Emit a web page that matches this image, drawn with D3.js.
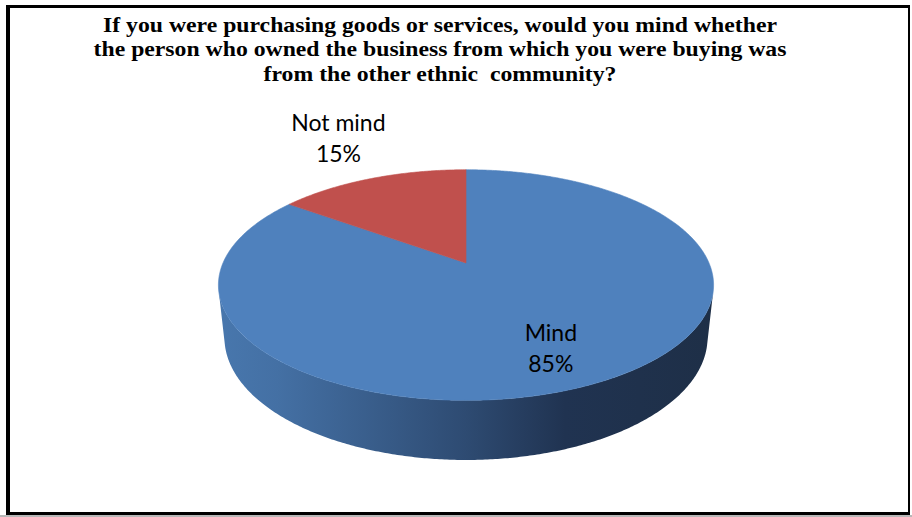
<!DOCTYPE html>
<html>
<head>
<meta charset="utf-8">
<script src="https://cdn.jsdelivr.net/npm/d3@7"></script>
<style>
  body { margin: 0; background: #fff; }
  svg { display: block; }
</style>
</head>
<body>
<svg id="chart" width="912" height="517"></svg>
<script>
// Survey answers and their shares (%)
const categories = ["Mind", "Not mind"];
const shares = [85, 15];
const shareLabels = ["85%", "15%"];
const sliceColors = ["#4f81bd", "#c0504d"];
const titleLines = [
  "If you were purchasing goods or services, would you mind whether",
  "the person who owned the business from which you were buying was",
  "from the other ethnic  community?"
];

const W = 912, H = 517;
const svg = d3.select("#chart");

// ---- frame ----
svg.append("rect").attr("x", 0).attr("y", 515).attr("width", W).attr("height", 2).attr("fill", "#b8b8b8");
svg.append("rect").attr("x", 6).attr("y", 5).attr("width", 4).attr("height", 510).attr("fill", "#000");
svg.append("rect").attr("x", 6).attr("y", 5).attr("width", 904).attr("height", 3).attr("fill", "#000");
svg.append("rect").attr("x", 908).attr("y", 5).attr("width", 2).attr("height", 510).attr("fill", "#000");
svg.append("rect").attr("x", 6).attr("y", 512).attr("width", 904).attr("height", 3).attr("fill", "#000");

// ---- title (slightly widened serif, centred) ----
const title = svg.append("text")
  .attr("transform", "translate(440,0) scale(1.13,1)")
  .attr("text-anchor", "middle")
  .attr("font-family", "'Liberation Serif', 'Times New Roman', serif")
  .attr("font-weight", "bold")
  .attr("font-size", 21)
  .attr("fill", "#000")
  .style("white-space", "pre");
title.selectAll("tspan").data(titleLines).join("tspan")
  .attr("x", 0)
  .attr("y", (d, i) => 32 + i * 24.5)
  .text(d => d);

// ---- 3D pie projection (perspective camera tilted over a flat disc) ----
const cx = 466, cy = 263;           // screen position of the disc centre
const tilt = 27.2 * Math.PI / 180;  // camera elevation
const cosT = Math.cos(tilt), sinT = Math.sin(tilt);
const camDist = 4.65;               // camera distance in disc radii
const focal = 1130;                 // focal length in px
const thick = 0.245;                // disc thickness in disc radii

function project(theta, r, y) {
  const x = r * Math.sin(theta);
  const z = -r * Math.cos(theta);
  const yv = y * cosT - z * sinT;
  const depth = camDist - (y * sinT + z * cosT);
  return [cx + focal * x / depth, cy - focal * yv / depth];
}

const pie = d3.pie().sort(null).value(d => d.value);
const arcs = pie(categories.map((c, i) => ({ name: c, value: shares[i], label: shareLabels[i], color: sliceColors[i] })));

const line = d3.line();
const STEP = Math.PI / 360;
function rimPoints(a0, a1, y) {
  const n = Math.max(2, Math.ceil(Math.abs(a1 - a0) / STEP));
  return d3.range(n + 1).map(k => project(a0 + (a1 - a0) * k / n, 1, y));
}

// side wall faces the camera where cos(theta) < -1/(camDist*cosT)
const sideHalf = Math.acos(-1 / (camDist * cosT));
const sideA0 = sideHalf, sideA1 = 2 * Math.PI - sideHalf;

// side gradient
const xs = d3.range(0, 361).map(a => project(a * Math.PI / 180, 1, 0)[0]);
const xMin = d3.min(xs), xMax = d3.max(xs);
const defs = svg.append("defs");
const grad = defs.append("linearGradient").attr("id", "sideShade")
  .attr("gradientUnits", "userSpaceOnUse")
  .attr("x1", xMin).attr("y1", 0).attr("x2", xMax).attr("y2", 0);
[[0, "#4877ad"], [0.12, "#4470a4"], [0.5, "#2e4b72"], [0.7, "#203351"], [1, "#1e2f47"]]
  .forEach(([o, c]) => grad.append("stop").attr("offset", o).attr("stop-color", c));

const g = svg.append("g");

// side walls (only portions of slices lying in the visible range)
arcs.forEach(a => {
  const s0 = Math.max(a.startAngle, sideA0), s1 = Math.min(a.endAngle, sideA1);
  if (s1 <= s0) return;
  const pts = rimPoints(s0, s1, 0).concat(rimPoints(s1, s0, -thick));
  g.append("path").attr("d", line(pts) + "Z").attr("fill", "url(#sideShade)");
});

// top faces
arcs.forEach(a => {
  const pts = [project(0, 0, 0)].concat(rimPoints(a.startAngle, a.endAngle, 0));
  g.append("path").attr("d", line(pts) + "Z").attr("fill", a.data.color)
    .attr("stroke", a.data.color).attr("stroke-width", 0.6).attr("stroke-linejoin", "round");
});

// data labels
const labelPlace = { "Mind": { r: 0.68, dy: 2 }, "Not mind": { r: 1.44, dy: -18 } };
arcs.forEach(a => {
  const mid = (a.startAngle + a.endAngle) / 2;
  const p = labelPlace[a.data.name];
  const [lx, ly] = project(mid, p.r, 0);
  const t = svg.append("text")
    .attr("text-anchor", "middle")
    .attr("font-family", "Lato, 'Open Sans', sans-serif")
    .attr("font-size", 23)
    .attr("fill", "#000");
  t.append("tspan").attr("x", lx).attr("y", ly + p.dy).text(a.data.name);
  t.append("tspan").attr("x", lx).attr("y", ly + p.dy + 31).text(a.data.label);
});
</script>
</body>
</html>
